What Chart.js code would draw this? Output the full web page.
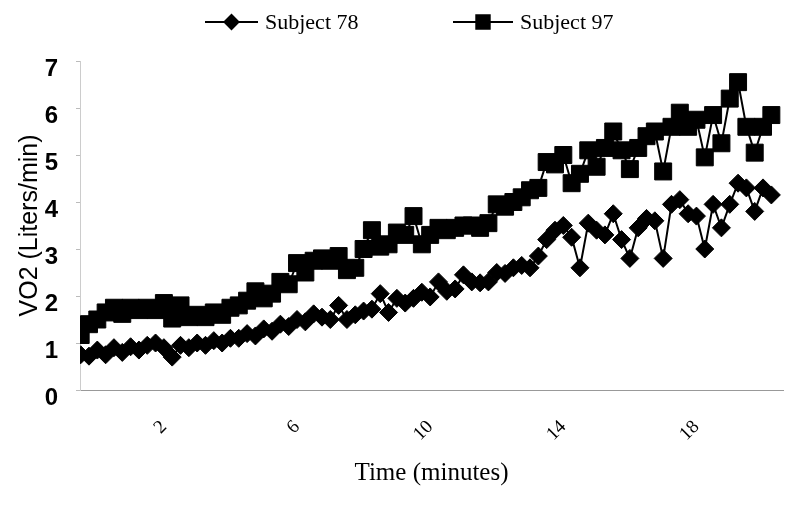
<!DOCTYPE html>
<html>
<head>
<meta charset="utf-8">
<script src="https://cdn.jsdelivr.net/npm/chart.js@4.4.1/dist/chart.umd.min.js"></script>
<style>
  html, body { margin: 0; padding: 0; background: #fff; }
  #wrap { width: 796px; height: 507px; }
</style>
</head>
<body>
<div id="wrap"><canvas id="vo2chart" width="796" height="507"></canvas></div>
<script>
// sample times (minutes), one reading every 15 s
var times = [-0.5, -0.25, 0, 0.25, 0.5, 0.75, 1, 1.25, 1.5, 1.75,
    2, 2.25, 2.5, 2.75, 3, 3.25, 3.5, 3.75, 4, 4.25,
    4.5, 4.75, 5, 5.25, 5.5, 5.75, 6, 6.25, 6.5, 6.75,
    7, 7.25, 7.5, 7.75, 8, 8.25, 8.5, 8.75, 9, 9.25,
    9.5, 9.75, 10, 10.25, 10.5, 10.75, 11, 11.25, 11.5, 11.75,
    12, 12.25, 12.5, 12.75, 13, 13.25, 13.5, 13.75, 14, 14.25,
    14.5, 14.75, 15, 15.25, 15.5, 15.75, 16, 16.25, 16.5, 16.75,
    17, 17.25, 17.5, 17.75, 18, 18.25, 18.5, 18.75, 19, 19.25,
    19.5, 19.75, 20, 20.25];

var subject78 = [0.75, 0.72, 0.85, 0.75, 0.9, 0.8, 0.92, 0.85, 0.95, 1.0,
    0.9, 0.7, 0.95, 0.9, 1.0, 0.95, 1.05, 1.0, 1.1, 1.1,
    1.2, 1.15, 1.3, 1.25, 1.4, 1.35, 1.5, 1.45, 1.62, 1.55,
    1.5, 1.8, 1.5, 1.6, 1.68, 1.72, 2.05, 1.65, 1.95, 1.85,
    1.95, 2.08, 1.98, 2.3, 2.1, 2.15, 2.45, 2.3, 2.28, 2.3,
    2.5, 2.48, 2.6, 2.65, 2.6, 2.85, 3.2, 3.4, 3.5, 3.25,
    2.6, 3.55, 3.4, 3.3, 3.75, 3.2, 2.8, 3.45, 3.65, 3.6,
    2.8, 3.95, 4.05, 3.75, 3.7, 3.0, 3.95, 3.45, 3.95, 4.4,
    4.3, 3.8, 4.3, 4.15];

var subject97 = [1.17, 1.4, 1.5, 1.65, 1.75, 1.62, 1.75, 1.7, 1.75, 1.7,
    1.85, 1.52, 1.8, 1.55, 1.6, 1.55, 1.65, 1.6, 1.75, 1.8,
    1.9, 2.1, 1.95, 2.05, 2.3, 2.25, 2.7, 2.5, 2.75, 2.8,
    2.75, 2.85, 2.55, 2.6, 3.0, 3.4, 3.05, 3.1, 3.35, 3.3,
    3.7, 3.1, 3.3, 3.45, 3.4, 3.45, 3.5, 3.5, 3.45, 3.55,
    3.95, 3.9, 4.0, 4.1, 4.25, 4.3, 4.85, 4.8, 5.0, 4.4,
    4.6, 5.1, 4.75, 5.15, 5.5, 5.1, 4.7, 5.15, 5.4, 5.5,
    4.65, 5.6, 5.9, 5.6, 5.75, 4.95, 5.85, 5.25, 6.2, 6.55,
    5.6, 5.05, 5.6, 5.85];

var seriesNames = ['Subject 78', 'Subject 97'];
var xTickValues = [2, 6, 10, 14, 18];

function toPoints(vals) {
    return vals.map(function (v, i) { return {x: times[i], y: v}; });
}

// legend drawn as line + marker + label, like the original
var lineLegend = {
    id: 'lineLegend',
    afterDraw: function (chart) {
        var ctx = chart.ctx;
        var items = [
            {x0: 205, x1: 258, text: 265, style: 'rectRot', r: 7},
            {x0: 453, x1: 513, text: 520, style: 'rect', r: 9.5}
        ];
        var y = 22;
        ctx.save();
        items.forEach(function (it, i) {
            ctx.strokeStyle = '#000';
            ctx.lineWidth = 2;
            ctx.beginPath();
            ctx.moveTo(it.x0, y);
            ctx.lineTo(it.x1, y);
            ctx.stroke();
            ctx.fillStyle = '#000';
            Chart.helpers.drawPoint(ctx, {pointStyle: it.style, radius: it.r, borderWidth: 1, rotation: 0},
                (it.x0 + it.x1) / 2, y);
            ctx.fill();
            ctx.font = '22px "Liberation Serif"';
            ctx.textBaseline = 'middle';
            ctx.textAlign = 'left';
            ctx.fillText(seriesNames[i], it.text, y + 1);
        });
        ctx.restore();
    }
};

var whiteBg = {
    id: 'whiteBg',
    beforeDraw: function (chart) {
        var ctx = chart.ctx;
        ctx.save();
        ctx.fillStyle = '#fff';
        ctx.fillRect(0, 0, chart.width, chart.height);
        ctx.restore();
    }
};

var ctx = document.getElementById('vo2chart').getContext('2d');
var chart = new Chart(ctx, {
    type: 'line',
    data: {
        datasets: [{
            label: seriesNames[0],
            data: toPoints(subject78),
            borderColor: '#000',
            backgroundColor: '#000',
            borderWidth: 2,
            pointStyle: 'rectRot',
            pointRadius: 9,
            pointBorderWidth: 1,
            pointBackgroundColor: '#000',
            pointBorderColor: '#000',
            tension: 0
        }, {
            label: seriesNames[1],
            data: toPoints(subject97),
            borderColor: '#000',
            backgroundColor: '#000',
            borderWidth: 2,
            pointStyle: 'rect',
            pointRadius: 12,
            pointBorderWidth: 1,
            pointBackgroundColor: '#000',
            pointBorderColor: '#000',
            tension: 0
        }]
    },
    options: {
        responsive: false,
        animation: false,
        devicePixelRatio: 1,
        layout: {
            padding: {top: 61, right: 3, bottom: 0, left: 0}
        },
        plugins: {
            legend: {display: false},
            tooltip: {enabled: false}
        },
        scales: {
            x: {
                type: 'linear',
                min: -0.52,
                max: 20.6,
                afterBuildTicks: function (scale) {
                    scale.ticks = xTickValues.map(function (v) { return {value: v}; });
                },
                afterFit: function (scale) { scale.height = 117; },
                ticks: {
                    autoSkip: false,
                    minRotation: 45,
                    maxRotation: 45,
                    padding: 26,
                    color: '#000',
                    font: {family: '"Liberation Serif"', size: 19}
                },
                grid: {drawOnChartArea: false, drawTicks: false},
                border: {display: true, color: '#999', width: 1, dash: [1, 4]},
                title: {
                    display: true,
                    text: 'Time (minutes)',
                    color: '#000',
                    font: {family: '"Liberation Serif"', size: 25},
                    padding: {top: 4, bottom: 19}
                }
            },
            y: {
                min: 0,
                max: 7,
                afterFit: function (scale) { scale.width = 80; },
                ticks: {
                    stepSize: 1,
                    padding: 18,
                    labelOffset: 8,
                    color: '#000',
                    font: {family: '"Liberation Sans"', size: 24, weight: 'bold'}
                },
                grid: {drawOnChartArea: false, drawTicks: true, tickLength: 4, color: '#bbb'},
                border: {display: true, color: '#ccc', width: 1, dash: [2, 4]},
                title: {
                    display: true,
                    text: 'VO2 (Liters/min)',
                    color: '#000',
                    font: {family: '"Liberation Sans"', size: 25},
                    padding: {top: 15, bottom: 0}
                }
            }
        }
    },
    plugins: [whiteBg, lineLegend]
});
</script>
</body>
</html>
